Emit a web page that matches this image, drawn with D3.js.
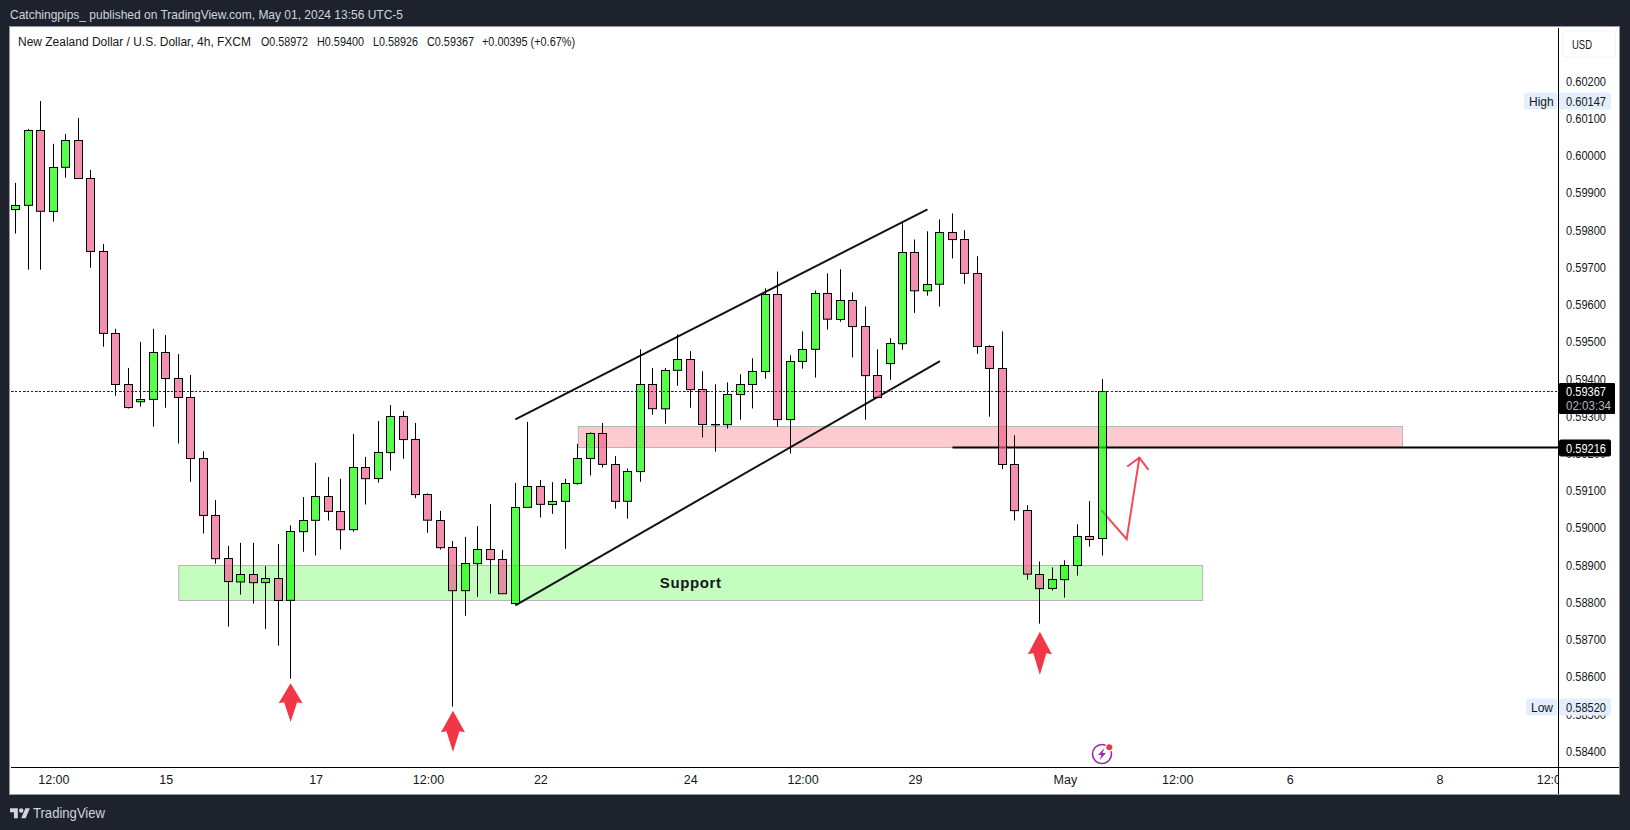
<!DOCTYPE html>
<html lang="en">
<head>
<meta charset="UTF-8">
<title>NZDUSD 4h</title>
<script src="https://d3js.org/d3.v7.min.js"></script>
<style>
    html, body { margin: 0; padding: 0; background: #1e222d; }
    svg { display: block; font-family: "Liberation Sans", Arial, sans-serif; }
    .price-axis text { font-size: 12.5px; fill: #131722; }
    .time-axis text { font-size: 12.5px; fill: #131722; }
</style>
</head>
<body>
<div id="chart"></div>
<script>
// prices, one entry per 4h candle
const opens = [0.59856,0.59867,0.60068,0.59851,0.59969,0.60041,0.59939,0.59743,0.59523,0.59386,0.59340,0.59346,0.59472,0.59402,0.59351,0.59187,0.59034,0.58918,0.58856,0.58876,0.58854,0.58865,0.58806,0.58991,0.59021,0.59085,0.59045,0.58996,0.59163,0.59133,0.59203,0.59300,0.59238,0.59090,0.59021,0.58948,0.58832,0.58905,0.58943,0.58916,0.58798,0.59056,0.59112,0.59064,0.59072,0.59120,0.59187,0.59254,0.59171,0.59072,0.59152,0.59386,0.59321,0.59424,0.59453,0.59372,0.59279,0.59278,0.59359,0.59386,0.59421,0.59628,0.59292,0.59448,0.59480,0.59630,0.59561,0.59612,0.59542,0.59410,0.59442,0.59496,0.59741,0.59638,0.59655,0.59794,0.59775,0.59684,0.59488,0.59429,0.59171,0.59047,0.58876,0.58838,0.58862,0.58900,0.58978,0.58972];
const highs = [0.59927,0.60072,0.60147,0.60032,0.60058,0.60101,0.59962,0.59763,0.59535,0.59430,0.59500,0.59535,0.59518,0.59467,0.59411,0.59206,0.59075,0.58952,0.58960,0.58960,0.58898,0.58957,0.59007,0.59083,0.59175,0.59137,0.59132,0.59253,0.59191,0.59287,0.59330,0.59314,0.59282,0.59093,0.59046,0.58965,0.58976,0.59005,0.59064,0.58941,0.59121,0.59285,0.59129,0.59123,0.59132,0.59226,0.59257,0.59282,0.59193,0.59160,0.59480,0.59430,0.59430,0.59520,0.59475,0.59421,0.59386,0.59391,0.59413,0.59456,0.59644,0.59689,0.59464,0.59528,0.59638,0.59684,0.59695,0.59633,0.59595,0.59480,0.59510,0.59821,0.59775,0.59797,0.59829,0.59845,0.59800,0.59730,0.59491,0.59528,0.59249,0.59061,0.58910,0.58894,0.58913,0.59010,0.59072,0.59400];
const lows = [0.59791,0.59694,0.59694,0.59823,0.59941,0.59939,0.59699,0.59487,0.59355,0.59321,0.59326,0.59272,0.59323,0.59227,0.59124,0.58985,0.58904,0.58735,0.58821,0.58797,0.58729,0.58684,0.58595,0.58936,0.58926,0.59020,0.58942,0.58990,0.59063,0.59122,0.59154,0.59186,0.59080,0.58987,0.58942,0.58520,0.58764,0.58815,0.58824,0.58824,0.58794,0.59056,0.59028,0.59038,0.58944,0.59116,0.59141,0.59162,0.59052,0.59025,0.59124,0.59304,0.59280,0.59382,0.59323,0.59243,0.59205,0.59267,0.59291,0.59321,0.59401,0.59272,0.59200,0.59428,0.59404,0.59533,0.59554,0.59458,0.59291,0.59351,0.59398,0.59479,0.59578,0.59624,0.59595,0.59724,0.59656,0.59468,0.59299,0.59158,0.59020,0.58861,0.58743,0.58832,0.58813,0.58872,0.58950,0.58926];
const closes = [0.59867,0.60068,0.59851,0.59969,0.60041,0.59939,0.59743,0.59523,0.59386,0.59324,0.59346,0.59472,0.59402,0.59351,0.59187,0.59034,0.58918,0.58856,0.58876,0.58854,0.58865,0.58806,0.58991,0.59021,0.59085,0.59045,0.58996,0.59163,0.59133,0.59203,0.59300,0.59238,0.59090,0.59021,0.58948,0.58832,0.58905,0.58943,0.58916,0.58824,0.59056,0.59112,0.59064,0.59072,0.59120,0.59187,0.59254,0.59171,0.59072,0.59152,0.59386,0.59321,0.59424,0.59453,0.59372,0.59278,0.59278,0.59359,0.59386,0.59421,0.59628,0.59292,0.59448,0.59480,0.59630,0.59561,0.59612,0.59542,0.59410,0.59351,0.59496,0.59741,0.59638,0.59655,0.59794,0.59775,0.59684,0.59488,0.59429,0.59171,0.59047,0.58876,0.58838,0.58862,0.58900,0.58978,0.58970,0.59367];

const priceTicks = [0.602,0.601,0.6,0.599,0.598,0.597,0.596,0.595,0.594,0.593,0.592,0.591,0.59,0.589,0.588,0.587,0.586,0.585,0.584];
const timeTickBars = [3,12,24,33,42,54,63,72,84,93,102,114,123];
const timeTickLabels = ["12:00","15","17","12:00","22","24","12:00","29","May","12:00","6","8","12:00"];

const lastPrice = 0.59367;
const highPrice = 0.60147;
const lowPrice = 0.5852;
const levelPrice = 0.59216;
const levelStartBar = 75;

// drawings, in bar index / price
const supportBars = [13, 95];
const supportPrices = [0.58898, 0.58805];
const resistanceBars = [45, 111];
const resistancePrices = [0.59273, 0.59216];
const channelUpperBars = [40, 73];
const channelUpperPrices = [0.59292, 0.59856];
const channelLowerBars = [40, 74];
const channelLowerPrices = [0.58792, 0.59448];
const pathBars = [86.92, 88.95, 89.97];
const pathPrices = [0.59048, 0.5897, 0.59189];
const pathHeadBars = [89, 89.97, 90.7];
const pathHeadPrices = [0.59165, 0.59189, 0.59156];
const arrowBars = [22, 35, 82];
const arrowTops = [0.58583, 0.58509, 0.58721];
const arrowBottoms = [0.58479, 0.58398, 0.58605];

const width = 1630, height = 830;
const plotLeft = 11, plotRight = 1558, plotTop = 28, plotBottom = 767;
const panelRight = 1619, panelBottom = 794;

const x = d3.scaleLinear().domain([0, 87]).range([15.9, 1102.3]);
const y = d3.scaleLinear().domain([0.602, 0.584]).range([81.3, 751.3]);

const svg = d3.select("#chart").append("svg")
    .attr("width", width)
    .attr("height", height)
    .attr("viewBox", [0, 0, width, height]);

svg.append("rect").attr("width", width).attr("height", height).attr("fill", "#1e222d");
svg.append("rect")
    .attr("x", plotLeft - 1.5).attr("y", plotTop - 1.5)
    .attr("width", panelRight - plotLeft + 2).attr("height", panelBottom - plotTop + 2)
    .attr("fill", "#fff").attr("stroke", "#9598a1").attr("stroke-width", 1);

svg.append("clipPath").attr("id", "plot-clip").append("rect")
    .attr("x", plotLeft).attr("y", plotTop)
    .attr("width", plotRight - plotLeft).attr("height", panelBottom - plotTop);

const plot = svg.append("g").attr("clip-path", "url(#plot-clip)");

// zones sit under the candles
function zone(bars, prices, fill) {
    plot.append("rect")
        .attr("x", x(bars[0]) + 0.5)
        .attr("y", Math.floor(y(prices[0])) + 0.5)
        .attr("width", x(bars[1]) - x(bars[0]))
        .attr("height", Math.round(y(prices[1]) - y(prices[0])))
        .attr("fill", fill)
        .attr("stroke", "#b2b5be")
        .attr("stroke-width", 1);
}
zone(supportBars, supportPrices, "rgba(80,250,60,0.33)");
zone(resistanceBars, resistancePrices, "rgba(247,82,95,0.3)");

plot.append("text")
    .attr("x", x((supportBars[0] + supportBars[1]) / 2) + 0.5)
    .attr("y", y((supportPrices[0] + supportPrices[1]) / 2) + 4.5)
    .attr("text-anchor", "middle")
    .attr("font-size", 15)
    .attr("font-weight", 700)
    .attr("letter-spacing", 0.6)
    .attr("fill", "#131722")
    .text("Support");

// channel and level lines
const line = d3.line().x(d => x(d[0])).y(d => y(d[1]));
plot.append("path")
    .attr("d", line(d3.zip(channelUpperBars, channelUpperPrices)))
    .attr("fill", "none").attr("stroke", "#131313").attr("stroke-width", 2);
plot.append("path")
    .attr("d", line(d3.zip(channelLowerBars, channelLowerPrices)))
    .attr("fill", "none").attr("stroke", "#131313").attr("stroke-width", 2);
plot.append("line")
    .attr("x1", x(levelStartBar)).attr("x2", plotRight)
    .attr("y1", y(levelPrice)).attr("y2", y(levelPrice))
    .attr("stroke", "#000").attr("stroke-width", 2);

// red projected path
plot.append("path")
    .attr("d", line(d3.zip(pathBars, pathPrices)))
    .attr("fill", "none").attr("stroke", "#f23645").attr("stroke-width", 2).attr("stroke-opacity", 0.9);
plot.append("path")
    .attr("d", line(d3.zip(pathHeadBars, pathHeadPrices)))
    .attr("fill", "none").attr("stroke", "#f23645").attr("stroke-width", 2).attr("stroke-opacity", 0.9);

// candles, bodies are see-through so the drawings show under them
const candles = opens.map((o, i) => ({ i, o, h: highs[i], l: lows[i], c: closes[i] }));
const px = i => Math.floor(x(i)) + 0.5;
const candle = plot.append("g").selectAll("g").data(candles).join("g");

// wick in two pieces, a single line would show through the body
candle.append("line")
    .attr("x1", d => px(d.i)).attr("x2", d => px(d.i))
    .attr("y1", d => y(d.h)).attr("y2", d => y(Math.max(d.o, d.c)))
    .attr("stroke", "#000");
candle.append("line")
    .attr("x1", d => px(d.i)).attr("x2", d => px(d.i))
    .attr("y1", d => y(Math.min(d.o, d.c))).attr("y2", d => y(d.l))
    .attr("stroke", "#000");

candle.append("rect")
    .attr("x", d => px(d.i) - 4)
    .attr("y", d => Math.round(y(Math.max(d.o, d.c))) + 0.5)
    .attr("width", 8)
    .attr("height", d => Math.max(Math.abs(y(d.o) - y(d.c)), 0.1))
    .attr("fill", d => d.c > d.o ? "#0fff00" : "#ef5f90")
    .attr("fill-opacity", 0.7)
    .attr("stroke", "#000");

// last price, the picture shows blue and red dots side by side
plot.append("line")
    .attr("x1", plotLeft).attr("x2", plotRight)
    .attr("y1", Math.round(y(lastPrice)) + 0.5).attr("y2", Math.round(y(lastPrice)) + 0.5)
    .attr("stroke", "#0d1a8c").attr("stroke-dasharray", "2 2");
plot.append("line")
    .attr("x1", plotLeft).attr("x2", plotRight)
    .attr("y1", Math.round(y(lastPrice)) + 0.5).attr("y2", Math.round(y(lastPrice)) + 0.5)
    .attr("stroke", "#d32f2f").attr("stroke-dasharray", "1 11").attr("stroke-dashoffset", -2);

// red up arrows under the wicks
plot.append("g").selectAll("path")
    .data(arrowBars.map((b, i) => ({ b, top: arrowTops[i], bottom: arrowBottoms[i] })))
    .join("path")
    .attr("d", d => {
        const cx = x(d.b), t = y(d.top), b = y(d.bottom), m = t + (b - t) * 0.52;
        return `M${cx},${t}L${cx + 12},${m}L${cx + 6.5},${m - 1}L${cx},${b}L${cx - 6.5},${m - 1}L${cx - 12},${m}Z`;
    })
    .attr("fill", "#f23645");

// purple lightning badge
const badge = plot.append("g").attr("transform", "translate(1102,754)");
badge.append("circle").attr("r", 9.5).attr("fill", "none").attr("stroke", "#9c27b0").attr("stroke-width", 1.6);
badge.append("path").attr("d", "M2.5,-6L-4,1H-0.5L-2.5,6L4,-1H0.5Z").attr("fill", "#9c27b0");
badge.append("circle").attr("cx", 7.3).attr("cy", -6.7).attr("r", 4.2).attr("fill", "#fff");
badge.append("circle").attr("cx", 7.3).attr("cy", -6.7).attr("r", 3).attr("fill", "#f23645");

// price axis
const priceAxis = svg.append("g")
    .attr("class", "price-axis")
    .attr("transform", `translate(${plotRight},0)`)
    .call(d3.axisRight(y).tickValues(priceTicks).tickFormat(d3.format(".5f")).tickSize(0).tickPadding(8));
priceAxis.select(".domain").remove();
priceAxis.selectAll("text").attr("textLength", 40).attr("lengthAdjust", "spacingAndGlyphs");

// time axis
svg.append("clipPath").attr("id", "time-clip").append("rect")
    .attr("x", plotLeft).attr("y", plotBottom).attr("width", plotRight - plotLeft).attr("height", panelBottom - plotBottom);
const timeAxis = svg.append("g")
    .attr("class", "time-axis")
    .attr("clip-path", "url(#time-clip)")
    .append("g")
    .attr("transform", `translate(0,${plotBottom})`)
    .call(d3.axisBottom(x).tickValues(timeTickBars).tickFormat((d, i) => timeTickLabels[i]).tickSize(0).tickPadding(8));
timeAxis.select(".domain").remove();

// pane separators
svg.append("line").attr("x1", plotLeft).attr("x2", panelRight).attr("y1", plotBottom + 0.5).attr("y2", plotBottom + 0.5).attr("stroke", "#000");
svg.append("line").attr("x1", plotRight + 0.5).attr("x2", plotRight + 0.5).attr("y1", plotTop).attr("y2", panelBottom).attr("stroke", "#000");

// price tags
function tag(price, label, left, right, h, fill, color) {
    const cy = Math.round(y(price));
    svg.append("rect")
        .attr("x", right[0]).attr("y", cy - h / 2)
        .attr("width", right[1] - right[0]).attr("height", h)
        .attr("rx", 2).attr("fill", fill);
    svg.append("text")
        .attr("x", 1566).attr("y", cy + 4.5)
        .attr("textLength", 40).attr("lengthAdjust", "spacingAndGlyphs")
        .attr("font-size", 12.5).attr("fill", color)
        .text(d3.format(".5f")(price));
    if (label) {
        svg.append("rect")
            .attr("x", left).attr("y", cy - h / 2)
            .attr("width", plotRight - left - 1).attr("height", h)
            .attr("rx", 2).attr("fill", fill);
        svg.append("text")
            .attr("x", left + 5).attr("y", cy + 4.5)
            .attr("font-size", 12).attr("fill", "#131722")
            .text(label);
    }
}
tag(highPrice, "High", 1524, [1559, 1611], 17, "#e3effd", "#131722");
tag(lowPrice, "Low", 1526, [1559, 1611], 17, "#e3effd", "#131722");
tag(levelPrice, null, 0, [1559, 1611], 17, "#000", "#fff");

// last price tag with the countdown
svg.append("rect").attr("x", 1559).attr("y", 383).attr("width", 56).attr("height", 31).attr("rx", 1).attr("fill", "#000");
svg.append("text").attr("x", 1566).attr("y", 395.5)
    .attr("textLength", 40).attr("lengthAdjust", "spacingAndGlyphs")
    .attr("font-size", 12.5).attr("fill", "#fff").text(d3.format(".5f")(lastPrice));
svg.append("text").attr("x", 1566).attr("y", 410)
    .attr("textLength", 45).attr("lengthAdjust", "spacingAndGlyphs")
    .attr("font-size", 12.5).attr("fill", "#b2b5be").text("02:03:34");

// currency button
svg.append("rect").attr("x", 1562.5).attr("y", 31).attr("width", 53).attr("height", 26).attr("rx", 4)
    .attr("fill", "#fff").attr("stroke", "#f0f3fa");
svg.append("text").attr("x", 1572).attr("y", 49).attr("textLength", 20).attr("lengthAdjust", "spacingAndGlyphs")
    .attr("font-size", 12).attr("fill", "#131722").text("USD");

// header text
svg.append("text").attr("x", 10).attr("y", 19)
    .attr("textLength", 393).attr("lengthAdjust", "spacingAndGlyphs")
    .attr("font-size", 13).attr("fill", "#d1d4dc")
    .text("Catchingpips_ published on TradingView.com, May 01, 2024 13:56 UTC-5");

const legend = [
    ["New Zealand Dollar / U.S. Dollar, 4h, FXCM", 18, 233, 12],
    ["O0.58972", 261, 47, 13],
    ["H0.59400", 317, 47, 13],
    ["L0.58926", 373, 45, 13],
    ["C0.59367", 427, 47, 13],
    ["+0.00395 (+0.67%)", 482, 93, 13]
];
svg.append("g").selectAll("text").data(legend).join("text")
    .attr("x", d => d[1]).attr("y", 46)
    .attr("textLength", d => d[2]).attr("lengthAdjust", "spacingAndGlyphs")
    .attr("font-size", d => d[3]).attr("fill", "#131722")
    .text(d => d[0]);

// TradingView footer
svg.append("path")
    .attr("transform", "translate(10,806) scale(0.56)")
    .attr("d", "M14 22H7V11H0V4h14v18zM28 22h-8l7.5-18h8L28 22z")
    .attr("fill", "#d1d4dc");
svg.append("circle").attr("cx", 21.2).attr("cy", 810.5).attr("r", 2.2).attr("fill", "#d1d4dc");
svg.append("text").attr("x", 33).attr("y", 818)
    .attr("textLength", 72).attr("lengthAdjust", "spacingAndGlyphs")
    .attr("font-size", 15).attr("fill", "#d1d4dc").text("TradingView");
</script>
</body>
</html>
